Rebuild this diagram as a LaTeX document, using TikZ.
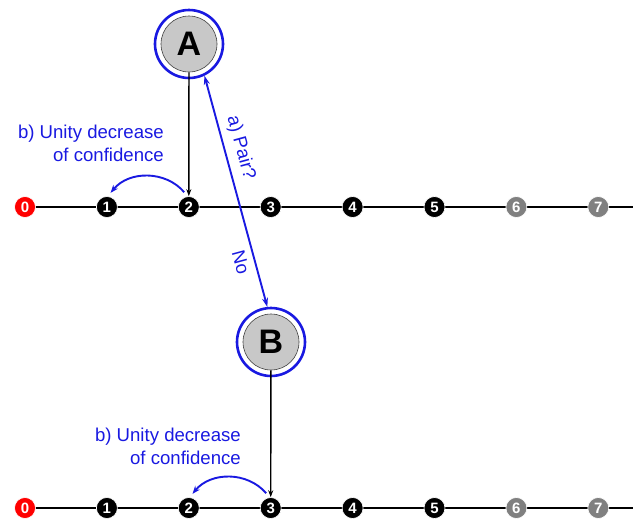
\documentclass[tikz,border=0pt]{standalone}
\usepackage{fontspec}
\setmainfont{Liberation Sans}
\usetikzlibrary{arrows.meta}
\definecolor{lblue}{RGB}{25,25,225}
\definecolor{dgray}{RGB}{128,128,128}
\definecolor{lgray}{RGB}{200,200,200}
\begin{document}
\begin{tikzpicture}[x=1pt,y=-1pt,
 numdot/.style={circle, fill=black, draw=white, line width=0.6pt, minimum size=21pt, inner sep=0pt, text=white, font=\fontsize{15}{15}\selectfont\bfseries},
 reddot/.style={numdot, fill=red},
 graydot/.style={numdot, fill=dgray},
 outer/.style={circle, draw=lblue, line width=2.6pt, minimum size=68pt, inner sep=0pt},
 inner/.style={circle, draw=black!75, fill=lgray, line width=0.6pt, minimum size=56pt, inner sep=0pt, font=\fontsize{34}{34}\selectfont\bfseries},
 lbl/.style={text=lblue, font=\fontsize{18.6}{22.5}\selectfont},
 conf/.style={lbl, align=right, anchor=north east, inner sep=0pt},
 blk/.style={draw=black, line width=1.4pt, -{Stealth[length=7pt,width=5pt]}},
 blu/.style={draw=lblue, line width=1.9pt},
 axis/.style={draw=black, line width=1.8pt}]
\useasboundingbox (0,0) rectangle (633,520);
% axes
\coordinate (s1) at (25,207);
\coordinate (e1) at (633,207);
\coordinate (s2) at (25,508);
\coordinate (e2) at (633,508);
\draw[axis] (s1) -- (e1);
\draw[axis] (s2) -- (e2);
% dots
\foreach \i/\s in {0/reddot,1/numdot,2/numdot,3/numdot,4/numdot,5/numdot,6/graydot,7/graydot}{
  \node[\s] (a\i) at (25+81.9*\i,207) {\i};
  \node[\s] (b\i) at (25+81.9*\i,508) {\i};
}
% agents
\node[outer] (A) at (189,44) {};
\node[inner] (Ai) at (189,44) {A};
\node[outer] (B) at (271,342) {};
\node[inner] (Bi) at (271,342) {B};
% arrows
\draw[blk] (Ai) -- (a2);
\draw[blk] (Bi) -- (b3);
\draw[blu, {Stealth[length=9pt,width=6pt]}-{Stealth[length=9pt,width=6pt]}] (A.-64) -- (B.96)
  node[pos=0.33, sloped, above=3pt, lbl] {a) Pair?}
  node[pos=0.79, sloped, below=3pt, lbl] {No};
\draw[blu, -{Stealth[length=8pt,width=6pt]}] ([yshift=5pt]a2.115) to[bend right=50] ([yshift=4pt]a1.70);
\draw[blu, -{Stealth[length=8pt,width=6pt]}] ([yshift=5pt]b3.115) to[bend right=50] ([yshift=4pt]b2.70);
% labels
\node[conf] (L1) at (164,125) {b) Unity decrease\\of confidence};
\node[conf] (L2) at (241,428) {b) Unity decrease\\of confidence};
\end{tikzpicture}
\end{document}
